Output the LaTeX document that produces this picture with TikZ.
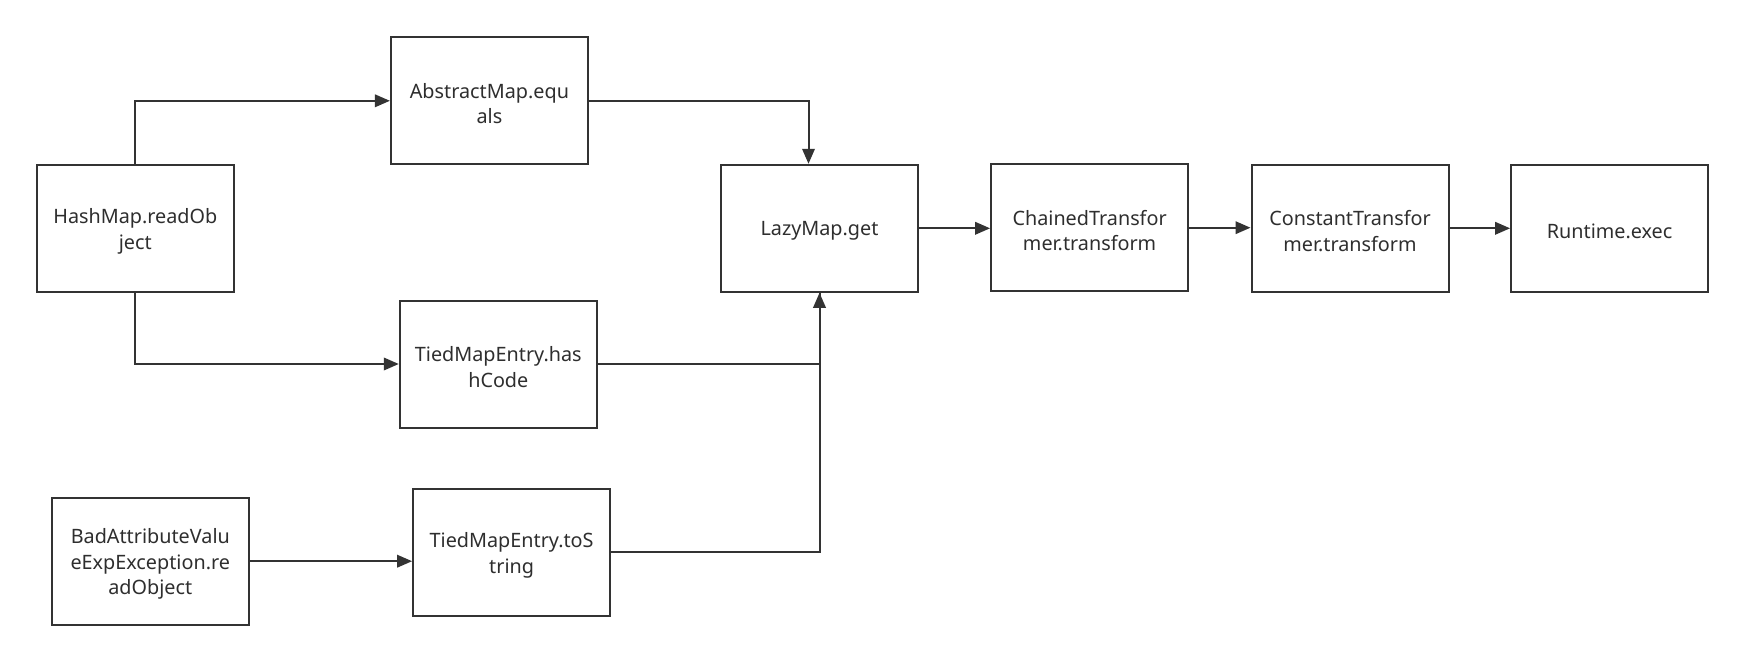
\documentclass[tikz,border=0pt]{standalone}
\usepackage{fontspec}
\setmainfont{Noto Sans}
\usetikzlibrary{arrows.meta}
\definecolor{linec}{HTML}{333333}
\begin{document}
\begin{tikzpicture}[x=1pt,y=-1pt,
  box/.style={draw=linec,line width=2pt,minimum width=197pt,minimum height=127pt,inner sep=0pt},
  txt/.style={align=center,inner sep=0pt,yshift=-3pt,font=\fontsize{19.8}{25.5}\selectfont,text=linec!90!black},
  conn/.style={draw=linec,line width=2pt},
  arr/.style={conn,-{Triangle[length=15pt,width=12.5pt]}}]
\useasboundingbox (0,0) rectangle (1746,663);
\node[box,label={[txt]center:{AbstractMap.equ\\als}}] (am) at (489.4,100.8) {};
\node[box,label={[txt]center:{HashMap.readOb\\ject}}] (hm) at (135.3,228.3) {};
\node[box,label={[txt]center:{LazyMap.get}}] (lm) at (819.5,228.3) {};
\node[box,label={[txt]center:{ChainedTransfor\\mer.transform}}] (ch) at (1089.6,227.7) {};
\node[box,label={[txt]center:{ConstantTransfor\\mer.transform}}] (co) at (1350,228.3) {};
\node[box,label={[txt]center:{Runtime.exec}}] (rt) at (1609.6,228.3) {};
\node[box,label={[txt]center:{TiedMapEntry.has\\hCode}}] (hc) at (498.3,364) {};
\node[box,label={[txt]center:{BadAttributeValu\\eExpException.re\\adObject}}] (ba) at (150.3,561.2) {};
\node[box,label={[txt]center:{TiedMapEntry.toS\\tring}}] (ts) at (511.6,552.3) {};
\coordinate (lmin) at ([xshift=-11pt]lm.north);
\draw[arr] (hm.north) |- (am.west);
\draw[arr] (am.east) -| (lmin);
\draw[arr] (hm.south) |- (hc.west);
\draw[conn] (hc.east) -| (lm.south);
\draw[arr] (ts.east) -| (lm.south);
\draw[arr] (ba.east) -- (ba.east -| ts.west);
\draw[arr] (lm.east) -- (lm.east -| ch.west);
\draw[arr] (ch.east) -- (ch.east -| co.west);
\draw[arr] (co.east) -- (co.east -| rt.west);
\end{tikzpicture}
\end{document}
